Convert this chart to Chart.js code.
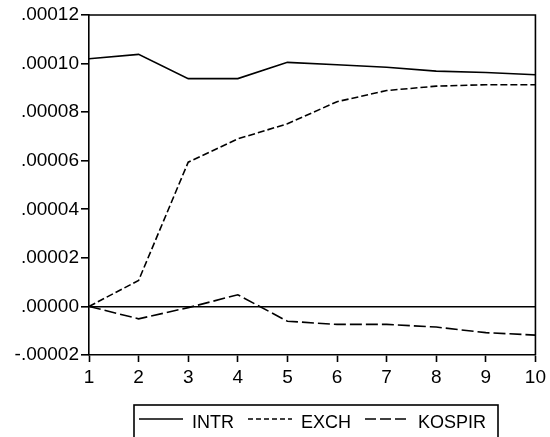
<!DOCTYPE html>
<html>
<head>
<meta charset="utf-8">
<script src="https://cdn.jsdelivr.net/npm/chart.js@4.4.1/dist/chart.umd.min.js"></script>
<style>
html,body{margin:0;padding:0;background:#fff;}
#wrap{width:550px;height:437px;}
</style>
</head>
<body>
<div id="wrap"><canvas id="c" width="550" height="437"></canvas></div>
<script>
const periods = [1,2,3,4,5,6,7,8,9,10];
const intr   = [0.000102, 0.0001038, 0.0000938, 0.0000938, 0.0001005, 0.0000995, 0.0000985, 0.0000969, 0.0000963, 0.0000954];
const exch   = [0.0, 0.0000107, 0.0000594, 0.0000690, 0.0000752, 0.0000843, 0.0000889, 0.0000907, 0.0000913, 0.0000913];
const kospir = [0.0, -0.0000051, -0.0000005, 0.0000048, -0.0000061, -0.0000074, -0.0000074, -0.0000085, -0.0000108, -0.0000118];
const seriesNames = ['INTR','EXCH','KOSPIR'];
const yTicks = [-0.00002, 0, 0.00002, 0.00004, 0.00006, 0.00008, 0.00010, 0.00012];

const FONT = 'Liberation Sans, Arial, sans-serif';
function pts(arr){ return periods.map((p,i)=>({x:p,y:arr[i]})); }
function fmt(v){
  const r = Math.round(v*1e5)/1e5;
  let s = Math.abs(r).toFixed(5).replace(/^0/, '');
  return (r < 0 ? '-' : '') + s;
}

const dashes = [[], [7,3], [12,4]];
const legendDashes = [[], [5,3], [11,4]];

const framePlugin = {
  id:'frame',
  afterDatasetsDraw(chart){
    const a = chart.chartArea, ctx = chart.ctx;
    ctx.save();
    ctx.strokeStyle = '#000';
    ctx.lineWidth = 1.6;
    ctx.beginPath();
    ctx.moveTo(a.left, a.top); ctx.lineTo(a.right, a.top); ctx.lineTo(a.right, a.bottom);
    ctx.stroke();
    ctx.restore();
  },
  afterDraw(chart){
    const ctx = chart.ctx;
    ctx.save();
    ctx.font = '18px ' + FONT;
    ctx.textBaseline = 'middle';
    ctx.fillStyle = '#000';
    ctx.strokeStyle = '#000';
    // legend box
    ctx.lineWidth = 1.6;
    ctx.strokeRect(134, 405, 364, 40);
    let x = 139;
    const ly = 419, ty = 423;
    chart.data.datasets.forEach((ds, i) => {
      ctx.setLineDash(legendDashes[i]);
      ctx.lineWidth = 1.4;
      ctx.beginPath();
      ctx.moveTo(x, ly); ctx.lineTo(x + 44, ly);
      ctx.stroke();
      ctx.setLineDash([]);
      x += 44 + 9;
      ctx.fillText(ds.label, x, ty);
      x += ctx.measureText(ds.label).width + 14;
    });
    ctx.restore();
  }
};

new Chart(document.getElementById('c'), {
  type:'line',
  data:{
    datasets:[
      {label:seriesNames[0], data:pts(intr), borderColor:'#000', borderWidth:1.6, borderDash:dashes[0], pointRadius:0, tension:0, fill:false},
      {label:seriesNames[1], data:pts(exch), borderColor:'#000', borderWidth:1.6, borderDash:dashes[1], pointRadius:0, tension:0, fill:false},
      {label:seriesNames[2], data:pts(kospir), borderColor:'#000', borderWidth:1.6, borderDash:dashes[2], pointRadius:0, tension:0, fill:false}
    ]
  },
  options:{
    responsive:false,
    animation:false,
    events:[],
    layout:{padding:{left:0, right:10, top:15, bottom:52}},
    plugins:{legend:{display:false}, tooltip:{enabled:false}},
    scales:{
      x:{
        type:'linear', min:1, max:10,
        afterBuildTicks(scale){ scale.ticks = periods.map(v=>({value:v})); },
        afterFit(scale){ scale.height = 30; },
        ticks:{color:'#000', font:{family:FONT, size:19}, padding:4, autoSkip:false, maxRotation:0, callback:v=>String(v)},
        grid:{drawOnChartArea:false, drawTicks:true, tickLength:7, tickColor:'#000', tickWidth:1.6},
        border:{display:true, color:'#000', width:1.6}
      },
      y:{
        type:'linear', min:-0.00002, max:0.00012,
        afterBuildTicks(scale){ scale.ticks = yTicks.map(v=>({value:v})); },
        afterFit(scale){ scale.width = 89; },
        ticks:{color:'#000', font:{family:FONT, size:19}, padding:2, callback:v=>fmt(v)},
        grid:{
          drawOnChartArea:true, drawTicks:true, tickLength:8, tickColor:'#000', tickWidth:1.6,
          color:c => (c.tick && Math.abs(c.tick.value) < 1e-12) ? '#000' : 'rgba(0,0,0,0)',
          lineWidth:1.6
        },
        border:{display:true, color:'#000', width:1.6}
      }
    }
  },
  plugins:[framePlugin]
});
</script>
</body>
</html>
